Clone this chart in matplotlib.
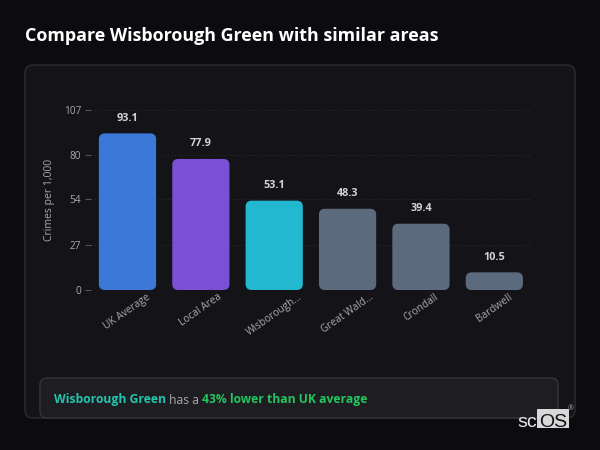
import matplotlib.pyplot as plt
from matplotlib.patches import FancyBboxPatch

plt.rcParams['font.family'] = ['Open Sans', 'DejaVu Sans']

areas = ["UK Average", "Local Area", "Wisborough...", "Great Wald...", "Crondall", "Bardwell"]
rates = [93.1, 77.9, 53.1, 48.3, 39.4, 10.5]
bar_colors = ["#3b78d8", "#7b50d4", "#22b8cf", "#5c6a7e", "#5c6a7e", "#5c6a7e"]
yticks = [0, 27, 54, 80, 107]

title = "Compare Wisborough Green with similar areas"
ylabel = "Crimes per 1,000"
place = "Wisborough Green"
verdict = "43% lower than UK average"

fig = plt.figure(figsize=(6, 4.5), dpi=100)
fig.patch.set_facecolor("#0c0c10")

# background layer in pixel coords
bg = fig.add_axes([0, 0, 1, 1], zorder=0)
bg.set_xlim(0, 600)
bg.set_ylim(450, 0)
bg.axis("off")
bg.add_patch(FancyBboxPatch((25, 65), 550, 353, boxstyle="round,pad=0,rounding_size=8",
                            fc="#141418", ec="#2c2c32", lw=1))
bg.add_patch(FancyBboxPatch((40, 378), 518, 40, boxstyle="round,pad=0,rounding_size=7",
                            fc="#1e1e22", ec="#34343a", lw=1))
bg.text(25, 36, title, color="white", fontsize=12.9, fontweight="bold", va="center")

r = fig.canvas.get_renderer()
px = 600 / fig.bbox.width

# footer sentence, pieced together
x = 54
for s, c, w in [(place, "#22c5ad", "bold"), (" has a ", "#a8a8ae", "normal"), (verdict, "#22c55e", "bold")]:
    t = bg.text(x, 400, s, color=c, fontsize=8.7, fontweight=w, va="center")
    x += t.get_window_extent(renderer=r).width * px

# logo
sc = bg.text(517, 427, "sc", color="#e8e8e8", fontsize=14, va="baseline", family="Liberation Sans")
x = 517 + sc.get_window_extent(renderer=r).width * px
bg.add_patch(plt.Rectangle((x, 409), 569 - x, 19, fc="#d8d8d8", ec="none"))
bg.text((x + 569) / 2, 427, "OS", color="#111111", fontsize=14, va="baseline", ha="center",
        family="Liberation Sans")
bg.text(571, 409, "®", color="#aaaaaa", fontsize=5, va="center", ha="center")

# chart
ax = fig.add_axes([90.8 / 600, 160 / 450, 440.2 / 600, 180 / 450], zorder=1)
ax.set_facecolor("none")
bars = ax.bar(range(len(areas)), rates, width=0.78, color=bar_colors)
for b, c, v in zip(bars, bar_colors, rates):
    b.set_visible(False)
    ax.add_patch(FancyBboxPatch((b.get_x(), 0), b.get_width(), b.get_height(),
                                boxstyle="round,pad=0,rounding_size=0.082",
                                mutation_aspect=43.5, fc=c, ec="none", zorder=2))
    ax.annotate(f"{v}", (b.get_x() + b.get_width() / 2, v), xytext=(0, 7),
                textcoords="offset points", ha="center", va="bottom",
                color="#d4d4d8", fontsize=7.8, fontweight="bold")

ax.set_xlim(-0.5, len(areas) - 0.5)
ax.set_ylim(0, 107)
ax.set_yticks(yticks)
ax.set_xticks(range(len(areas)))
ax.set_xticklabels(areas, rotation=35, ha="center", va="top")
ax.tick_params(axis="x", length=0, colors="#a8a8ae", labelsize=7.3, pad=1)
ax.tick_params(axis="y", length=4, width=0.8, color="#55555c", labelcolor="#a8a8ae", labelsize=7.3, pad=3)
ax.grid(axis="y", color="#2a2a30", linestyle=(0, (1, 2)), lw=0.8)
ax.set_axisbelow(True)
for sp in ax.spines.values():
    sp.set_visible(False)
ax.set_ylabel(ylabel, color="#a8a8ae", fontsize=7.5, labelpad=6)

fig.savefig("out.png", dpi=100, facecolor=fig.get_facecolor())
